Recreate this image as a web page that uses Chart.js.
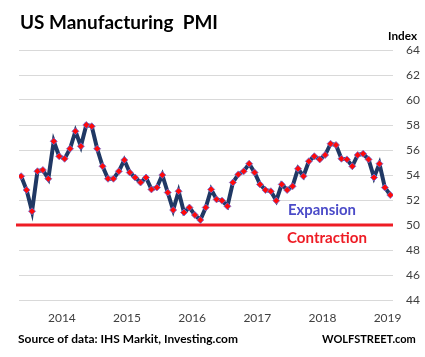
<!DOCTYPE html>
<html>
<head>
<meta charset="utf-8">
<script src="https://cdn.jsdelivr.net/npm/chart.js@4/dist/chart.umd.min.js"></script>
<style>
html,body{margin:0;padding:0;background:#fff;}
canvas{display:block;}
</style>
</head>
<body>
<canvas id="c" width="425" height="357"></canvas>
<script>
// Monthly PMI readings, Jul 2013 .. Mar 2019
const pmiValues = [
  53.9, 52.8, 51.1, 54.3, 54.4, 53.7, 56.7, 55.5, 55.3, 56.1, 57.5, 56.3,
  58.0, 57.9, 56.1, 54.7, 53.7, 53.7, 54.3, 55.2, 54.2, 53.8, 53.4, 53.8,
  52.85, 53.0, 54.0, 52.6, 51.2, 52.7, 51.0, 51.4, 50.8, 50.4, 51.4, 52.85,
  52.05, 51.95, 51.5, 53.4, 54.05, 54.3, 54.9, 54.2, 53.25, 52.8, 52.7, 51.95,
  53.25, 52.8, 53.1, 54.5, 53.9, 55.1, 55.5, 55.25, 55.6, 56.5, 56.4, 55.3,
  55.25, 54.7, 55.6, 55.7, 55.25, 53.8, 54.9, 53.0, 52.4
];
const yearLabels = ['2014', '2015', '2016', '2017', '2018', '2019'];
const yearPositions = [7.5, 19.5, 31.5, 43.5, 55.5, 67.5];
const thresholdValue = 50;

const FONT = 'Lato, "Liberation Sans", sans-serif';

function fitText(ctx, text, x, y, targetW, baseSize, weight, color) {
  ctx.font = weight + ' ' + baseSize + 'px ' + FONT;
  const w = ctx.measureText(text).width;
  const size = baseSize * targetW / w;
  ctx.font = weight + ' ' + size.toFixed(2) + 'px ' + FONT;
  ctx.fillStyle = color;
  ctx.textAlign = 'left';
  ctx.textBaseline = 'alphabetic';
  ctx.fillText(text, x, y);
}

const overlay = {
  id: 'overlay',
  beforeDatasetsDraw(chart) {
    const ctx = chart.ctx;
    const y = chart.scales.y.getPixelForValue(thresholdValue);
    ctx.save();
    ctx.strokeStyle = '#ee1c25';
    ctx.lineWidth = 3;
    ctx.beginPath();
    ctx.moveTo(16, y);
    ctx.lineTo(chart.chartArea.right, y);
    ctx.stroke();
    ctx.restore();
  },
  afterDraw(chart) {
    const ctx = chart.ctx;
    ctx.save();
    fitText(ctx, 'US Manufacturing  PMI', 20, 28.5, 198, 20, 'bold', '#000');
    fitText(ctx, 'Index', 388, 40, 29, 12, 'bold', '#000');
    fitText(ctx, 'Expansion', 288, 215, 68, 14, 'bold', '#4b4bc8');
    fitText(ctx, 'Contraction', 287, 243, 80, 14, 'bold', '#ee1c25');
    fitText(ctx, 'Source of data: IHS Markit, Investing.com', 18, 342.5, 220, 13, 'bold', '#000');
    fitText(ctx, 'WOLFSTREET.com', 322, 342.5, 94, 13, 'bold', '#000');
    ctx.restore();
  }
};

new Chart(document.getElementById('c'), {
  type: 'line',
  data: {
    datasets: [{
      data: pmiValues.map((v, i) => ({ x: i, y: v })),
      borderColor: '#203864',
      borderWidth: 4,
      tension: 0,
      pointStyle: 'rectRot',
      pointRadius: 3.5,
      pointBackgroundColor: '#ff0a0a',
      pointBorderColor: '#7070d8',
      pointBorderWidth: 0.8
    }]
  },
  options: {
    responsive: false,
    animation: false,
    devicePixelRatio: 1,
    layout: { padding: { left: 19, top: 50, right: 0, bottom: 0 } },
    plugins: { legend: { display: false }, tooltip: { enabled: false }, title: { display: false } },
    scales: {
      x: {
        type: 'linear',
        min: -0.4,
        max: 68.5,
        grid: { display: false, drawTicks: false },
        border: { display: false },
        afterBuildTicks(axis) { axis.ticks = yearPositions.map(v => ({ value: v })); },
        afterFit(axis) { axis.height = 57; },
        ticks: {
          autoSkip: false,
          maxRotation: 0,
          padding: 11,
          color: '#404040',
          font: { family: FONT, size: 12 },
          callback: (v, i) => yearLabels[i]
        }
      },
      y: {
        position: 'right',
        min: 44,
        max: 64,
        grid: { color: '#d9d9d9', lineWidth: 1, drawTicks: false },
        border: { display: false },
        afterFit(axis) { axis.width = 32; },
        ticks: {
          stepSize: 2,
          padding: 13,
          color: '#404040',
          font: { family: FONT, size: 12 }
        }
      }
    }
  },
  plugins: [overlay]
});
</script>
</body>
</html>
